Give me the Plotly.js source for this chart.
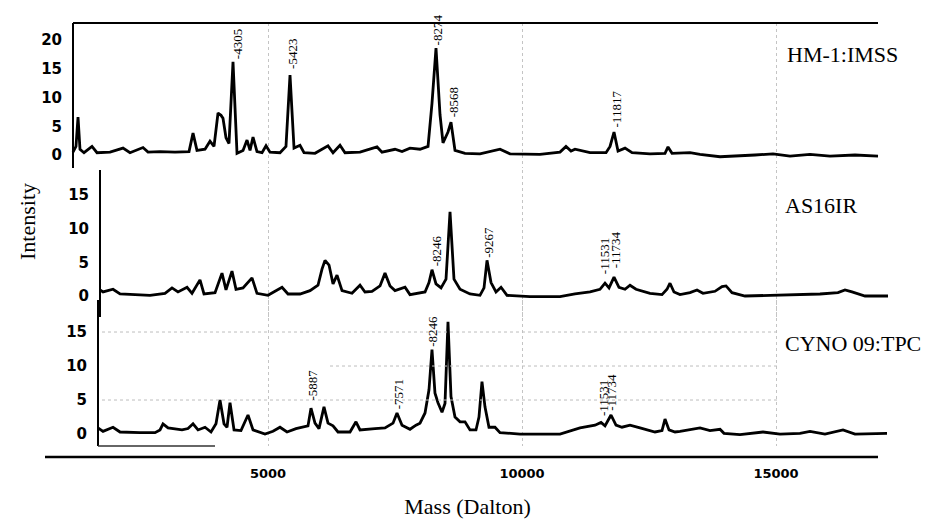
<!DOCTYPE html>
<html>
<head>
<meta charset="utf-8">
<script src="https://cdn.plot.ly/plotly-3.0.1.min.js"></script>
<style>html,body{margin:0;padding:0;background:#fff;}#chart{width:931px;height:519px;}</style>
</head>
<body>
<div id="chart"></div>
<script>
// ---------- data ----------
var panelNames = ["HM-1:IMSS", "AS16IR", "CYNO 09:TPC"];
var xTickVals = [5000, 10000, 15000];
var xTickText = ["5000", "10000", "15000"];
var yTicks1 = [0, 5, 10, 15, 20];
var yTicks23 = [0, 5, 10, 15];

// HM-1:IMSS spectrum (mass, intensity)
var mass1 = [1161,1220,1260,1299,1378,1535,1634,1890,2146,2283,2539,2638,2874,3169,3445,3524,3602,3760,3858,3937,4016,4075,4114,4173,4232,4311,4390,4508,4587,4646,4705,4783,4882,4961,5039,5236,5354,5433,5512,5630,5709,5925,6181,6280,6417,6516,6811,7146,7244,7500,7638,7795,7992,8150,8228,8307,8386,8445,8543,8602,8681,8878,9173,9567,9764,10354,10748,10866,10965,11043,11339,11654,11733,11811,11890,12028,12166,12520,12815,12874,12953,13307,13504,13898,14587,14941,15276,15669,16063,16555,17008];
var int1 = [0.5,1.5,6.6,1.0,0.4,1.5,0.4,0.5,1.2,0.4,1.3,0.5,0.6,0.5,0.6,3.8,0.8,1.0,2.4,1.5,7.3,6.9,6.4,3.0,2.0,16.2,0.3,0.8,2.6,0.8,3.1,0.6,0.4,1.6,0.5,0.4,1.5,13.9,1.2,1.7,0.4,0.3,1.6,0.4,1.7,0.4,0.5,1.4,0.5,1.0,0.6,1.2,1.0,1.5,9.0,18.6,7.0,2.1,4.0,5.7,0.8,0.3,0.2,1.0,0.2,0.1,0.5,1.5,0.7,1.0,0.4,0.4,1.5,4.0,0.7,1.2,0.4,0.2,0.3,1.4,0.3,0.4,0.1,-0.3,0.0,0.2,-0.2,0.1,-0.2,0.0,-0.2];

// AS16IR spectrum
var mass2 = [1693,1752,1949,2087,2382,2677,2972,3110,3228,3406,3504,3661,3740,3957,4094,4173,4291,4370,4508,4685,4783,5000,5276,5394,5630,5827,5984,6063,6122,6201,6280,6358,6457,6654,6811,6909,7047,7205,7303,7402,7500,7697,7795,7992,8091,8169,8228,8307,8406,8504,8583,8661,8780,8976,9173,9252,9311,9390,9488,9587,9705,10157,10748,11043,11339,11535,11634,11713,11811,11909,12028,12126,12244,12520,12756,12854,12913,12992,13110,13307,13445,13563,13799,13937,14016,14134,14390,14882,15472,15866,16220,16358,16496,16752,17205];
var int2 = [0.9,0.6,1.0,0.3,0.2,0.1,0.4,1.2,0.6,1.3,0.4,2.4,0.3,0.5,3.4,0.9,3.7,1.0,1.2,2.7,0.4,0.1,1.3,0.3,0.3,0.8,1.6,4.0,5.3,4.6,1.8,3.1,0.8,0.4,1.6,0.6,0.7,1.5,3.4,1.5,0.8,1.3,0.2,0.4,0.6,2.0,3.9,1.8,1.2,2.5,12.5,2.5,1.0,0.3,0.1,1.2,5.3,2.0,0.6,1.3,0.1,-0.1,-0.1,0.3,0.6,1.0,1.9,1.2,2.8,1.3,1.0,1.6,1.0,0.4,0.2,1.0,1.9,0.6,0.2,0.5,0.9,0.4,0.7,1.4,1.5,0.5,0.0,0.1,0.2,0.3,0.5,0.9,0.6,0.0,0.0];

// CYNO 09:TPC spectrum
var mass3 = [1653,1752,1949,2087,2480,2776,2874,2933,3032,3169,3307,3425,3524,3622,3760,3878,3976,4055,4134,4193,4252,4331,4468,4606,4705,4941,5098,5236,5374,5551,5689,5787,5846,5925,6004,6102,6181,6280,6378,6614,6732,6811,7106,7303,7461,7539,7638,7795,7913,7992,8091,8169,8228,8287,8346,8425,8484,8543,8602,8681,8780,8878,8976,9094,9153,9212,9271,9350,9468,9567,9961,10748,11142,11437,11555,11634,11752,11850,11968,12126,12323,12618,12756,12815,12894,13012,13110,13406,13504,13701,13898,13976,14291,14744,15079,15472,15669,15964,16319,16555,16850,17185];
var int3 = [0.9,0.4,1.0,0.3,0.2,0.2,0.6,1.5,0.9,0.8,0.6,0.8,1.5,0.6,1.0,0.3,1.5,5.0,1.5,1.0,4.6,0.6,0.5,2.8,0.6,0.0,0.4,1.0,0.3,0.8,1.0,1.2,3.8,1.6,0.8,4.0,1.6,1.2,0.3,0.3,1.8,0.6,0.8,0.9,1.6,3.1,1.3,0.7,1.3,1.6,3.1,6.5,12.4,6.0,4.6,3.2,4.5,16.5,5.5,2.5,1.8,1.8,0.6,0.6,2.5,7.7,4.0,1.0,1.0,0.2,0.0,0.0,0.9,1.3,1.7,1.2,2.8,1.3,1.0,1.3,0.9,0.3,0.5,2.2,0.6,0.3,0.4,0.7,0.9,0.5,0.7,0.1,-0.1,0.3,0.0,0.1,0.4,0.0,0.6,0.0,0.0,0.1];

// peak labels (text, mass at label, intensity at label foot)
var peakText1 = ["-4305", "-5423", "-8274", "-8568", "-11817"];
var peakMass1 = [4390, 5492, 8327, 8642, 11850];
var peakInt1  = [16.5, 14.8, 18.8, 6.4, 4.7];
var peakText2 = ["-8246", "-9267", "-11531", "-11734"];
var peakMass2 = [8307, 9350, 11614, 11831];
var peakInt2  = [4.2, 5.6, 3.1, 3.9];
var peakText3 = ["-5887", "-7571", "-8246", "-11531", "-11734"];
var peakMass3 = [5886, 7559, 8248, 11594, 11772];
var peakInt3  = [4.7, 3.5, 12.6, 2.5, 3.2];

// ---------- layout helpers ----------
var W = 931, H = 519;
function px(x) { return x / W; }
function py(y) { return 1 - y / H; }

var lineStyle = {color: "#000", width: 2.8};
var traces = [
  {x: mass1, y: int1, xaxis: "x", yaxis: "y",  type: "scatter", mode: "lines", line: lineStyle, name: panelNames[0], hoverinfo: "x+y"},
  {x: mass2, y: int2, xaxis: "x", yaxis: "y2", type: "scatter", mode: "lines", line: lineStyle, name: panelNames[1], hoverinfo: "x+y"},
  {x: mass3, y: int3, xaxis: "x", yaxis: "y3", type: "scatter", mode: "lines", line: lineStyle, name: panelNames[2], hoverinfo: "x+y"}
];

var tickFontY = {family: "DejaVu Sans", size: 15, color: "#000", weight: "bold"};
var serif = "Liberation Serif, Times New Roman, serif";

function yAxis(domainTop, domainBottom, range, pos, ticks) {
  return {
    domain: [py(domainBottom), py(domainTop)],
    range: range,
    anchor: "free",
    position: pos,
    showline: true, linecolor: "#000", linewidth: 2,
    showgrid: false, zeroline: false,
    tickmode: "array", tickvals: ticks,
    ticks: "", ticklabelstandoff: 7,
    tickfont: tickFontY
  };
}

var annotations = [];
function addPeaks(texts, masses, ints, yref) {
  for (var i = 0; i < texts.length; i++) {
    annotations.push({
      x: masses[i], y: ints[i], xref: "x", yref: yref,
      text: texts[i], showarrow: false, textangle: -90,
      xanchor: "center", yanchor: "bottom", borderpad: 0,
      font: {family: serif, size: 13, color: "#000"}
    });
  }
}
addPeaks(peakText1, peakMass1, peakInt1, "y");
addPeaks(peakText2, peakMass2, peakInt2, "y2");
addPeaks(peakText3, peakMass3, peakInt3, "y3");

var nameY = [55, 205, 343];
var nameX = [785, 783, 783];
for (var k = 0; k < panelNames.length; k++) {
  annotations.push({
    x: px(nameX[k]), y: py(nameY[k]), xref: "paper", yref: "paper",
    text: panelNames[k], showarrow: false, xanchor: "left", yanchor: "middle",
    font: {family: serif, size: 22, color: "#000"}
  });
}
annotations.push({
  x: px(27), y: py(222), xref: "paper", yref: "paper",
  text: "Intensity", showarrow: false, textangle: -90,
  xanchor: "center", yanchor: "middle",
  font: {family: serif, size: 22, color: "#000"}
});

var dotGrid = {color: "#bdbdbd", width: 1, dash: "dot"};
var shapes = [
  // main mass axis line
  {type: "line", xref: "paper", yref: "paper", x0: px(45), x1: px(878), y0: py(457), y1: py(457), line: {color: "#000", width: 2.4}},
  // top frame of first panel
  {type: "line", xref: "paper", yref: "paper", x0: px(73), x1: px(878), y0: py(23), y1: py(23), line: {color: "#000", width: 2}},
  // bottom frame piece of third panel
  {type: "line", xref: "paper", yref: "paper", x0: px(98), x1: px(215), y0: py(446), y1: py(446), line: {color: "#333", width: 1.5}},
  // dotted horizontal grid in third panel
  {type: "line", xref: "paper", yref: "y3", x0: px(102), x1: px(780), y0: 15, y1: 15, line: dotGrid},
  {type: "line", xref: "paper", yref: "y3", x0: px(330), x1: px(780), y0: 10, y1: 10, line: dotGrid},
  {type: "line", xref: "paper", yref: "y3", x0: px(102), x1: px(780), y0: 5, y1: 5, line: dotGrid}
];

var layout = {
  width: W, height: H,
  margin: {l: 0, r: 0, t: 0, b: 0},
  paper_bgcolor: "#fff", plot_bgcolor: "rgba(0,0,0,0)",
  showlegend: false,
  xaxis: {
    domain: [px(45), px(890)],
    range: [610, 17244],
    anchor: "free", position: py(457),
    showline: false, zeroline: false,
    showgrid: true, gridcolor: "#c4c4c4", gridwidth: 1, griddash: "dot",
    tickmode: "array", tickvals: xTickVals, ticktext: xTickText,
    ticks: "", ticklabelstandoff: 7,
    tickfont: {family: "DejaVu Sans", size: 13, color: "#000", weight: "bold"},
    title: {text: "Mass (Dalton)", standoff: 20, font: {family: serif, size: 22, color: "#000"}}
  },
  yaxis:  yAxis(23, 168, [-2.26, 22.96], px(73), yTicks1),
  yaxis2: yAxis(170, 317, [-3.12, 18.72], px(100), yTicks23),
  yaxis3: yAxis(300, 446, [-1.76, 19.71], px(98), yTicks23),
  annotations: annotations,
  shapes: shapes
};

Plotly.newPlot("chart", traces, layout, {displayModeBar: false, staticPlot: true});
</script>
</body>
</html>
